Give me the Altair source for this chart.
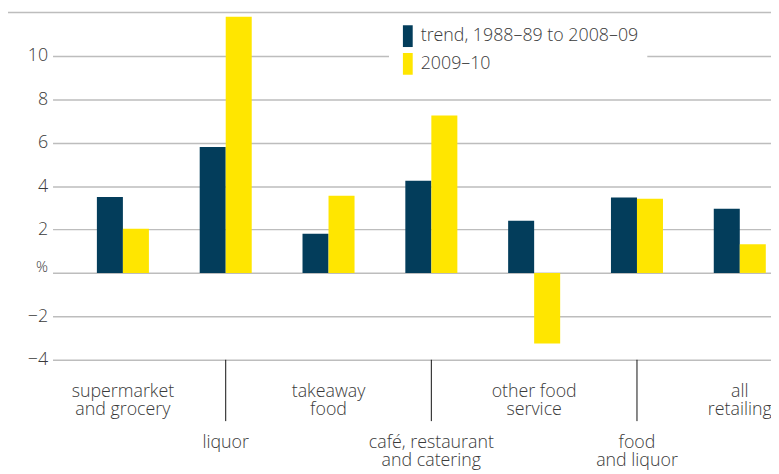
import altair as alt
import pandas as pd

categories = ["supermarket and grocery", "liquor", "takeaway food",
              "café, restaurant and catering", "other food service",
              "food and liquor", "all retailing"]
label_text = ["supermarket\nand grocery", "liquor", "takeaway\nfood",
              "café, restaurant\nand catering", "other food\nservice",
              "food\nand liquor", "all\nretailing"]
series = ["trend, 1988–89 to 2008–09", "2009–10"]
trend_values = [3.5, 5.8, 1.8, 4.25, 2.4, 3.47, 2.95]
recent_values = [2.03, 11.8, 3.56, 7.25, -3.25, 3.42, 1.32]
y_ticks = [-4, -2, 0, 2, 4, 6, 8, 10]
y_top = 12
colors = ["#033d5b", "#ffe600"]

rows = []
for c, a, b in zip(categories, trend_values, recent_values):
    rows.append({"category": c, "series": series[0], "value": a})
    rows.append({"category": c, "series": series[1], "value": b})
bars_df = pd.DataFrame(rows)
cat_df = pd.DataFrame({"category": categories, "label": label_text,
                       "idx": list(range(len(categories)))})

W, H = 726, 351
FONT = "Open Sans"
TXT = "#3a3a3a"
FS = 18
CFS = 18
LH = 18.5

xscale = alt.Scale(domain=categories, paddingInner=0.494, paddingOuter=0.241, align=0.895)
yscale = alt.Scale(domain=[-4, y_top], nice=False)

bars = alt.Chart(bars_df).mark_bar().encode(
    x=alt.X("category:N", scale=xscale, axis=None, sort=categories),
    xOffset=alt.XOffset("series:N", sort=series, scale=alt.Scale(paddingInner=0, paddingOuter=0)),
    y=alt.Y("value:Q", scale=yscale, title=None,
            axis=alt.Axis(values=y_ticks, grid=True, gridColor="#bdbdbd", gridWidth=1.5,
                          ticks=False, domain=False, labelPadding=5,
                          labelFont=FONT, labelColor=TXT, labelFontWeight=300,
                          labelFontSize={"condition": {"test": "datum.value == 0", "value": 15}, "value": 18},
                          labelOffset={"condition": {"test": "datum.value == 0", "value": -6}, "value": 0},
                          labelExpr="datum.value == 0 ? '%' : (datum.value < 0 ? '−' + abs(datum.value) : datum.label)")),
    color=alt.Color("series:N", sort=series,
                    scale=alt.Scale(domain=series, range=colors),
                    legend=alt.Legend(title=None, orient="none", legendX=340, legendY=5,
                                      fillColor="white", padding=8,
                                      symbolType="M-0.45,-1L0.45,-1L0.45,1L-0.45,1Z",
                                      symbolSize=484, symbolStrokeWidth=0,
                                      rowPadding=6, labelOffset=2, labelLimit=0,
                                      labelFont=FONT, labelFontSize=FS, labelFontWeight=300,
                                      labelColor=TXT)),
)

top_rule = alt.Chart(pd.DataFrame({"v": [y_top]})).mark_rule(color="#bdbdbd", strokeWidth=1.5).encode(
    y=alt.Y("v:Q", scale=yscale),
    x=alt.value(-47), x2=alt.value(W),
)

seps = alt.Chart(cat_df).transform_filter("datum.idx % 2 == 1").mark_rule(
    color="#111111", strokeWidth=1).encode(
    x=alt.X("category:N", scale=xscale, sort=categories),
    y=alt.value(H), y2=alt.value(H + 62),
)

upper = alt.Chart(cat_df).transform_filter("datum.idx % 2 == 0").mark_text(
    font=FONT, fontSize=CFS, fontWeight=300, color=TXT, lineBreak="\n", lineHeight=LH,
    baseline="alphabetic", align="center").encode(
    x=alt.X("category:N", scale=xscale, sort=categories),
    y=alt.value(H + 37.5),
    text="label:N",
)

lower = alt.Chart(cat_df).transform_filter("datum.idx % 2 == 1").mark_text(
    font=FONT, fontSize=CFS, fontWeight=300, color=TXT, lineBreak="\n", lineHeight=LH,
    baseline="alphabetic", align="center").encode(
    x=alt.X("category:N", scale=xscale, sort=categories),
    y=alt.value(H + 89),
    text="label:N",
)

chart = alt.layer(top_rule, bars, seps, upper, lower).properties(
    width=W, height=H,
    autosize=alt.AutoSizeParams(type="none"),
    padding={"left": 45, "top": 2, "right": 0, "bottom": 113},
).configure_view(stroke=None)

chart.save("out.html", embed_options={"renderer": "svg", "actions": False})
